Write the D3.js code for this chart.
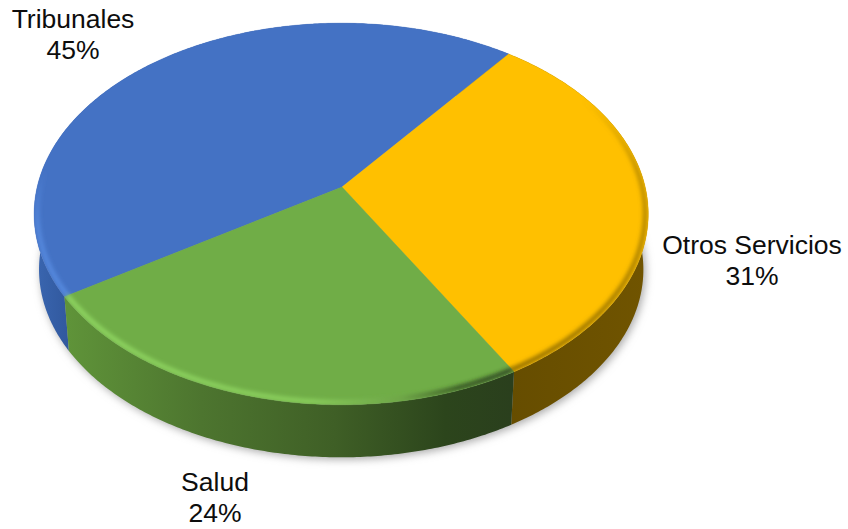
<!DOCTYPE html>
<html><head><meta charset="utf-8">
<script src="https://cdnjs.cloudflare.com/ajax/libs/d3/7.8.5/d3.min.js"></script>
<style>html,body{margin:0;padding:0;background:#fff}svg{display:block}</style>
</head><body><div id="c"></div>
<script>
const categories = ["Tribunales","Otros Servicios","Salud"];
const values = [44.6,31.2,24.2];
const labels = ["45%","31%","24%"];
const topColors = ["#4472c4","#ffc000","#70ad47"];

const W=848,H=529;
const apex={x:342,y:187}, rimShiftX=-0.8, a=304, b=187, k=0.1413, depth=56, shrink=0.984;
const startDeg=-122.8;
const labelPos=[{x:73,y:28},{x:752,y:254},{x:215,y:491}];
const lineGap=31;

const svg=d3.select("#c").append("svg").attr("width",W).attr("height",H);
const defs=svg.append("defs");
const blur=(id,s)=>defs.append("filter").attr("id",id)
  .attr("x","-10%").attr("y","-10%").attr("width","120%").attr("height","120%")
  .append("feGaussianBlur").attr("stdDeviation",s);
blur("shadow",4.5); blur("bevel",1.9);

const grad=(id,x1,x2,stops,vertical)=>{
  const g=defs.append("linearGradient").attr("id",id).attr("gradientUnits","userSpaceOnUse");
  if(vertical) g.attr("x1",0).attr("x2",0).attr("y1",x1).attr("y2",x2);
  else g.attr("x1",x1).attr("x2",x2).attr("y1",0).attr("y2",0);
  stops.forEach(s=>g.append("stop").attr("offset",s[0]).attr("stop-color",s[1]).attr("stop-opacity",s[2]===undefined?1:s[2]));
};
grad("sideBlue",35,72,[[0,"#3a66b0"],[1,"#30579c"]]);
grad("sideOrange",510,645,[[0,"#664d00"],[1,"#705400"]]);
grad("sideGreen",68,512,[[0,"#5f9339"],[0.3,"#4d752f"],[0.6,"#3f5f26"],[0.85,"#2c451c"],[1,"#2a3f1d"]]);
grad("rimBlue",170,295,[[0,"#5a8fe4",0],[0.45,"#5a8fe4",0.9],[1,"#5a8fe4",1]],true);
grad("rimOrange",100,370,[[0,"#8a6800",0],[0.25,"#8a6800",0.6],[1,"#7a5c00",0.95]],true);
grad("rimGreen",68,512,[[0,"#94dc66"],[0.55,"#8fd561"],[0.75,"#6ea348"],[0.88,"#2c451c"],[1,"#25381a"]]);
const sideFill=["url(#sideBlue)","url(#sideOrange)","url(#sideGreen)"];
const rimFill=["url(#rimBlue)","url(#rimOrange)","url(#rimGreen)"];

const pie=d3.pie().sort(null).value(d=>d)
  .startAngle(startDeg*Math.PI/180).endAngle((startDeg+360)*Math.PI/180);
const arcs=pie(values);

// Perspective projection of the pie's plane (angle clockwise from the far side).
const project=(t,r=1)=>{
  const u=r*Math.sin(t), v=-r*Math.cos(t), w=1-k*v;
  return [a*u/w, b*v/w];
};
const upper=(t,r)=>{const p=project(t,r);return [apex.x+rimShiftX+p[0],apex.y+p[1]];};
const lower=(t,r)=>{const p=project(t,r);return [apex.x+rimShiftX+p[0]*shrink,apex.y+depth+p[1]*shrink];};
const sample=(s,e)=>{const n=Math.max(2,Math.ceil((e-s)/0.01));return d3.range(n+1).map(i=>s+(e-s)*i/n);};
const line=d3.line();
const closed=d3.line().curve(d3.curveLinearClosed);
const full=sample(0,2*Math.PI);

// shadow beneath the extruded disc
svg.append("path").attr("d",closed(full.map(t=>lower(t)))).attr("fill","#a8a8a8")
  .attr("transform","translate(2,2)").attr("filter","url(#shadow)");

// side walls
svg.selectAll("path.side").data(arcs).join("path").attr("class","side")
  .attr("d",d=>{const ts=sample(d.startAngle,d.endAngle);
    return closed(ts.map(t=>upper(t)).concat(ts.slice().reverse().map(t=>lower(t))));})
  .attr("fill",(d,i)=>sideFill[i]);

// top faces
svg.selectAll("path.face").data(arcs).join("path").attr("class","face")
  .attr("d",d=>closed([[apex.x,apex.y]].concat(sample(d.startAngle,d.endAngle).map(t=>upper(t)))))
  .attr("fill",(d,i)=>topColors[i]).attr("stroke",(d,i)=>topColors[i]).attr("stroke-width",0.4);

// soft bevel along each rim, kept inside the top face
defs.append("clipPath").attr("id","topClip").append("path").attr("d",closed(full.map(t=>upper(t))));
const bevel=svg.append("g").attr("clip-path","url(#topClip)");
bevel.selectAll("path").data(arcs).join("path")
  .attr("d",d=>line(sample(d.startAngle,d.endAngle).map(t=>upper(t,0.99))))
  .attr("fill","none").attr("stroke",(d,i)=>rimFill[i]).attr("stroke-width",4)
  .attr("filter","url(#bevel)");

// labels
const lab=svg.selectAll("g.lab").data(categories).join("g").attr("class","lab")
  .attr("font-family","'Liberation Sans',Arial,sans-serif").attr("font-size",26.5)
  .attr("fill","#0d0d0d").attr("text-anchor","middle");
lab.append("text").attr("x",(d,i)=>labelPos[i].x).attr("y",(d,i)=>labelPos[i].y).text(d=>d);
lab.append("text").attr("x",(d,i)=>labelPos[i].x).attr("y",(d,i)=>labelPos[i].y+lineGap).text((d,i)=>labels[i]);
</script></body></html>
